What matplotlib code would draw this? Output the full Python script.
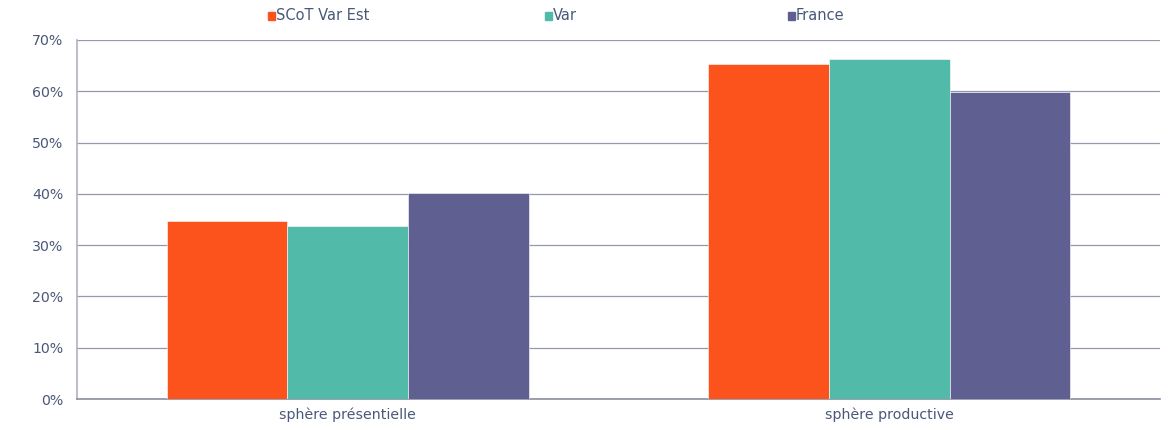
import matplotlib
matplotlib.use("Agg")
import matplotlib.pyplot as plt
from matplotlib.patches import Rectangle
from matplotlib.ticker import FuncFormatter
import numpy as np

categories = ["sphère présentielle", "sphère productive"]
series_names = ["SCoT Var Est", "Var", "France"]
scot = [34.7, 65.3]
var = [33.7, 66.3]
france = [40.2, 59.8]
colors = ["#FC531C", "#52BAA8", "#5F5F91"]
yticks = [0, 10, 20, 30, 40, 50, 60, 70]

text_color = "#4A5878"
grid_color = "#9498AE"

fig = plt.figure(figsize=(11.74, 4.30), dpi=100)
ax = fig.add_axes([0.0656, 0.072, 0.9224, 0.835])

x = np.arange(len(categories))
w = 0.223
for i, (vals, c) in enumerate(zip([scot, var, france], colors)):
    ax.bar(x + (i - 1) * w, vals, width=w, color=c, edgecolor="white", linewidth=0.4, zorder=3)

ax.set_xlim(-0.5, 1.5)
ax.set_ylim(0, 70)
ax.set_yticks(yticks)
ax.yaxis.set_major_formatter(FuncFormatter(lambda v, p: f"{int(v)}%"))
ax.set_xticks(x)
ax.set_xticklabels(categories)
ax.grid(axis="y", color=grid_color, linewidth=0.9, zorder=0)
ax.set_axisbelow(True)
for s in ["top", "right"]:
    ax.spines[s].set_visible(False)
ax.spines["left"].set_color("#B0B2C0")
ax.spines["left"].set_linewidth(1.2)
ax.spines["bottom"].set_color("#8A8E9E")
ax.spines["bottom"].set_linewidth(1.2)
ax.tick_params(axis="both", length=0, labelsize=10.2, colors=text_color, pad=10)
ax.tick_params(axis="x", pad=6)

# legend (manual, top)
W, H = 1174, 430
legend_pos = [268, 545, 788]
for name, c, px in zip(series_names, colors, legend_pos):
    fig.patches.append(Rectangle((px / W, 1 - 20 / H), 7 / W, 8 / H,
                                 transform=fig.transFigure, color=c, figure=fig))
    fig.text((px + 8) / W, 1 - 16 / H, name, fontsize=10.5, color=text_color,
             va="center", ha="left")

fig.savefig("out.png", dpi=100)
